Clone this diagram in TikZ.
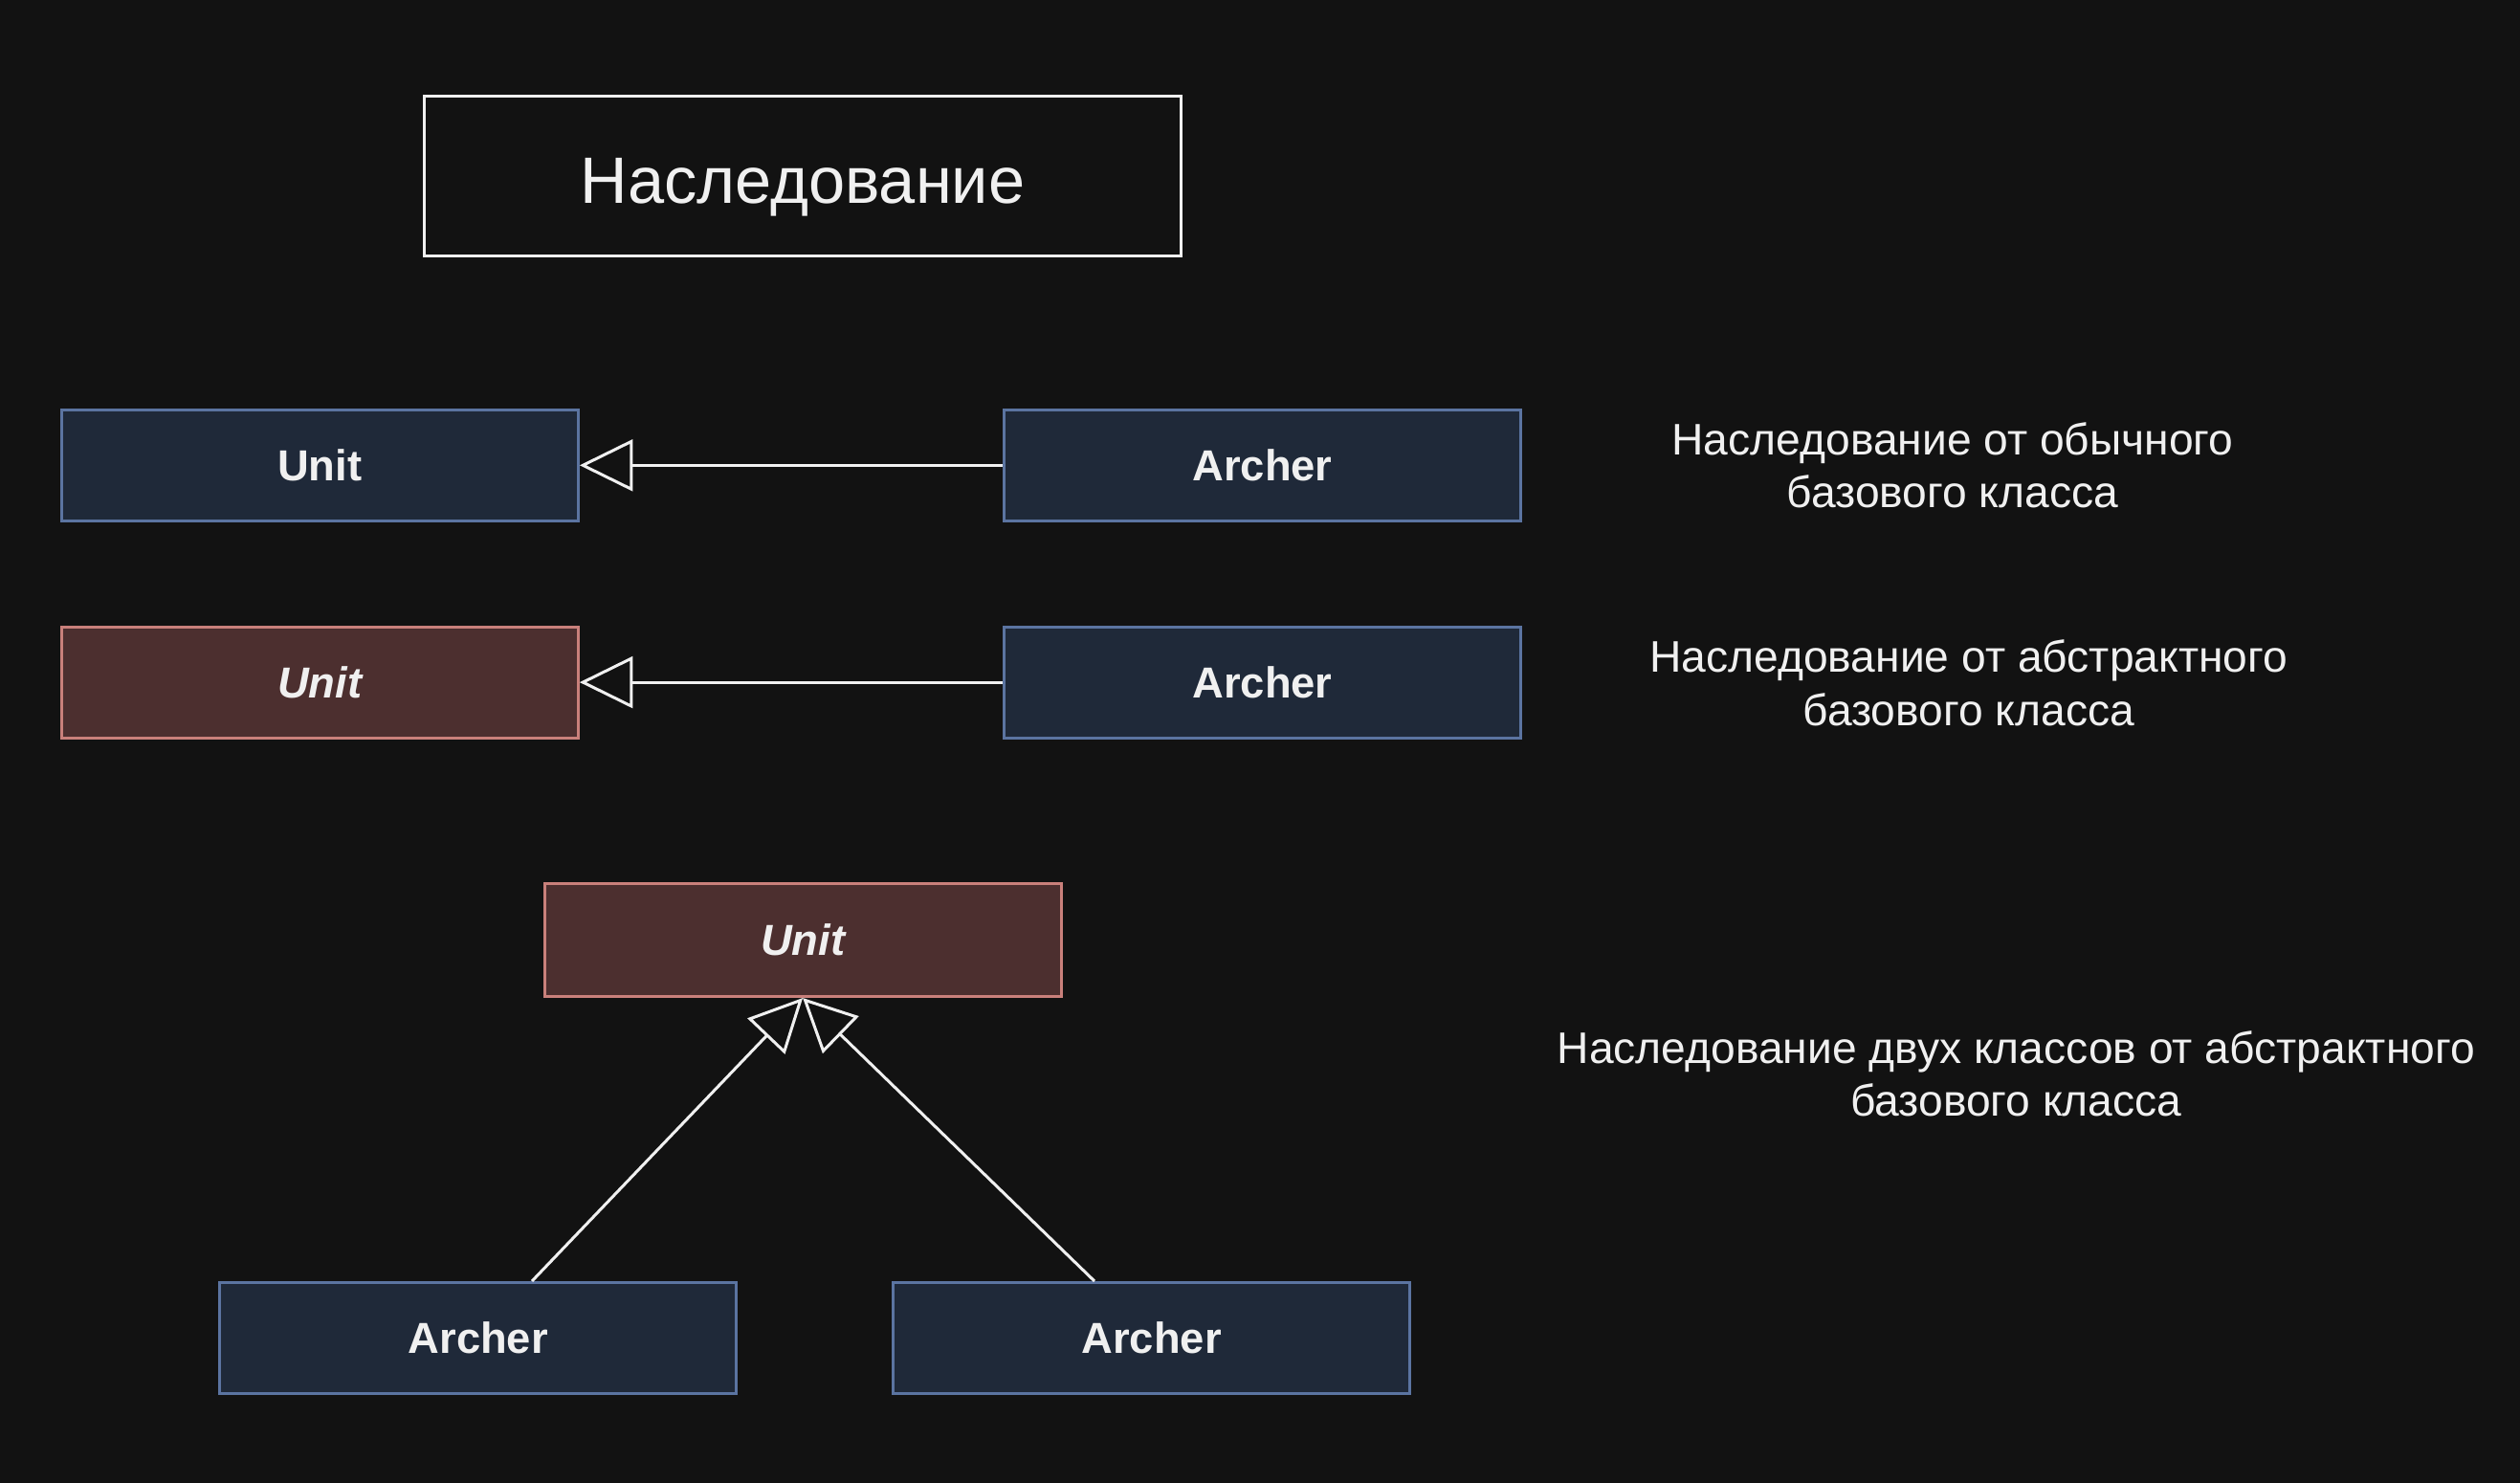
\documentclass[tikz,border=0pt]{standalone}
\usepackage{fontspec}
\setmainfont{Liberation Sans}
\usetikzlibrary{arrows.meta,calc}
\definecolor{bg}{HTML}{121212}
\definecolor{txt}{HTML}{F0F0F0}
\definecolor{bluefill}{HTML}{1F2939}
\definecolor{bluestroke}{HTML}{5B74A1}
\definecolor{redfill}{HTML}{4C2F2F}
\definecolor{redstroke}{HTML}{C9807B}
\tikzset{
  cls/.style={draw=bluestroke, fill=bluefill, line width=1.8pt, minimum width=321.5pt, minimum height=69pt, inner sep=0pt, text=txt, font=\fontsize{27}{32}\selectfont\bfseries},
  abscls/.style={cls, draw=redstroke, fill=redfill, font=\fontsize{27}{32}\selectfont\bfseries\itshape},
  titlebox/.style={draw=txt, fill=bg, line width=1.8pt, minimum width=471pt, minimum height=99pt, inner sep=0pt, text=txt, text height=34pt, text depth=0pt, font=\fontsize{40.8}{48}\selectfont},
  lbl/.style={text=txt, align=center, inner sep=0pt, font=\fontsize{27.5}{33}\selectfont},
  inh/.style={draw=txt, line width=1.8pt, -{Triangle[open, length=33pt, width=32pt]}}
}
\begin{document}
\begin{tikzpicture}[x=1pt, y=-1pt]
\fill[bg] (0,0) rectangle (1568,922.7);
\useasboundingbox (0,0) rectangle (1568,922.7);
\node[titlebox] (title) at (499.5,109.5) {Наследование};
\node[cls] (u1) at (199,289.5) {Unit};
\node[cls] (ar1) at (785.5,289.5) {Archer};
\node[abscls] (u2) at (199,424.5) {Unit};
\node[cls] (ar2) at (785.5,424.5) {Archer};
\node[abscls, minimum height=70pt] (u3) at (499.5,585) {Unit};
\node[cls] (ar3) at (297.5,832.5) {Archer};
\node[cls] (ar4) at (716.5,832.5) {Archer};
\node[lbl] (lab1) at (1215,289.5) {Наследование от обычного\\базового класса};
\node[lbl] (lab2) at (1225,425) {Наследование от абстрактного\\базового класса};
\node[lbl] (lab3) at (1254.5,668) {Наследование двух классов от абстрактного\\базового класса};
\coordinate (a3top) at ($(ar3.north)+(33.5,0)$);
\coordinate (a4top) at ($(ar4.north)+(-35.5,0)$);
\draw[inh] (ar1) -- (u1);
\draw[inh] (ar2) -- (u2);
\draw[inh] (a3top) -- (u3.south);
\draw[inh] (a4top) -- (u3.south);
\end{tikzpicture}
\end{document}
